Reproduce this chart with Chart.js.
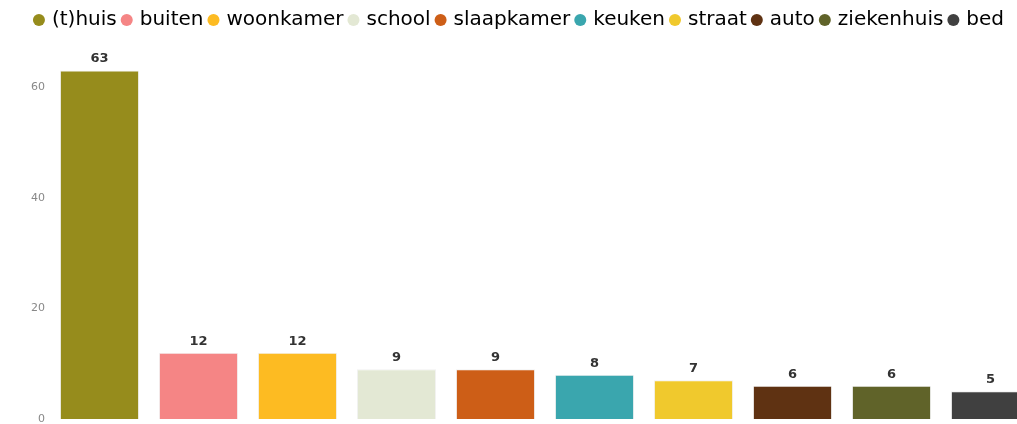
<!DOCTYPE html>
<html>
<head>
<meta charset="utf-8">
<script src="https://cdn.jsdelivr.net/npm/chart.js@4/dist/chart.umd.min.js"></script>
<style>
  html, body { margin: 0; padding: 0; background: #fff; overflow: hidden; }
  #wrap { width: 1040px; height: 424px; position: relative; }
</style>
</head>
<body>
<div id="wrap"><canvas id="myChart"></canvas></div>
<script>
// categories and values
const labels = ['(t)huis', 'buiten', 'woonkamer', 'school', 'slaapkamer', 'keuken', 'straat', 'auto', 'ziekenhuis', 'bed'];
const values = [63, 12, 12, 9, 9, 8, 7, 6, 6, 5];
const colors = ['#968c1c', '#f58585', '#fdbb22', '#e3e8d4', '#cd5e17', '#3aa6ae', '#f0c92d', '#5f3212', '#606329', '#404040'];
const yTicks = [0, 20, 40, 60];

// draw the number above every bar
const valueLabels = {
  id: 'valueLabels',
  afterDatasetsDraw(chart) {
    const ctx = chart.ctx;
    const meta = chart.getDatasetMeta(0);
    ctx.save();
    ctx.font = 'bold 13px "DejaVu Sans", sans-serif';
    ctx.fillStyle = '#333';
    ctx.textAlign = 'center';
    ctx.textBaseline = 'bottom';
    meta.data.forEach((bar, i) => {
      ctx.fillText(values[i], bar.x, bar.y - 5);
    });
    ctx.restore();
  }
};

// leave a bit more room under the legend
const legendGap = {
  id: 'legendGap',
  beforeInit(chart) {
    const fit = chart.legend.fit;
    chart.legend.fit = function () {
      fit.bind(chart.legend)();
      this.height += 14;
    };
  }
};

const data = {
  labels: labels,
  datasets: [{
    data: values,
    backgroundColor: colors,
    borderColor: 'rgba(0,0,0,0.06)',
    borderWidth: 1,
    categoryPercentage: 1,
    barPercentage: 0.8
  }]
};

const config = {
  type: 'bar',
  data: data,
  options: {
    responsive: true,
    maintainAspectRatio: false,
    animation: false,
    layout: { padding: { top: 3, bottom: 5, left: 0, right: 0 } },
    plugins: {
      tooltip: { enabled: false },
      legend: {
        position: 'top',
        labels: {
          font: { family: '"DejaVu Sans", sans-serif', size: 20 },
          color: '#555',
          usePointStyle: true,
          pointStyle: 'circle',
          boxWidth: 6,
          boxHeight: 8.5,
          padding: 7,
          generateLabels: () => labels.map((l, i) => ({
            text: l,
            fillStyle: colors[i],
            strokeStyle: colors[i],
            lineWidth: 0,
            pointStyle: 'circle',
            hidden: false,
            index: i
          }))
        }
      }
    },
    scales: {
      x: { display: false },
      y: {
        min: 0,
        max: 66,
        afterFit: s => { s.width = 50; s.paddingTop = 0; s.paddingBottom = 0; },
        afterBuildTicks: s => { s.ticks = yTicks.map(v => ({ value: v })); },
        grid: { display: false, drawTicks: false },
        border: { display: false },
        ticks: {
          padding: 5,
          color: '#888',
          font: { family: '"DejaVu Sans", sans-serif', size: 11 }
        }
      }
    }
  },
  plugins: [valueLabels, legendGap]
};

let myChart = new Chart(document.getElementById('myChart'), config);
</script>
</body>
</html>
